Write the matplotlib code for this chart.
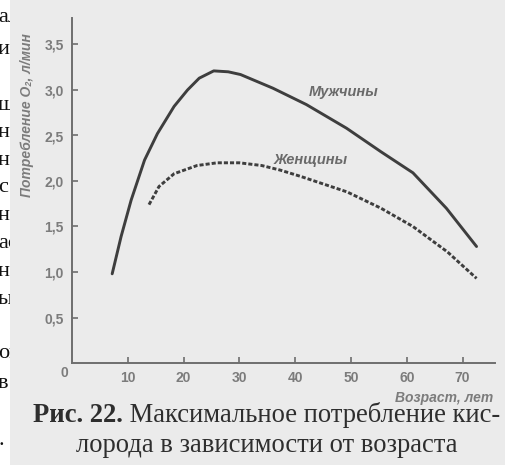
import matplotlib
matplotlib.use("Agg")
import matplotlib.pyplot as plt
from matplotlib.patches import Rectangle

# ---- data ----
men_age = [7.2, 8.8, 10.6, 13.0, 15.3, 18.3, 20.7, 22.8, 25.4, 28.0, 30.2, 36.0, 42.0, 49.2, 55.4, 61.1, 67.1, 72.5]
men_vo2 = [0.98, 1.39, 1.79, 2.23, 2.52, 2.82, 3.00, 3.13, 3.21, 3.20, 3.17, 3.02, 2.84, 2.58, 2.32, 2.09, 1.70, 1.28]

women_age = [13.8, 15.6, 18.3, 22.4, 26.0, 30.0, 34.0, 37.3, 41.0, 49.3, 55.4, 61.1, 67.3, 72.5]
women_vo2 = [1.74, 1.94, 2.08, 2.17, 2.20, 2.20, 2.17, 2.12, 2.05, 1.88, 1.70, 1.50, 1.22, 0.93]

x_ticks = [10, 20, 30, 40, 50, 60, 70]
y_ticks = [0.5, 1.0, 1.5, 2.0, 2.5, 3.0, 3.5]
y_tick_labels = ["0,5", "1,0", "1,5", "2,0", "2,5", "3,0", "3,5"]

label_men = "Мужчины"
label_women = "Женщины"
x_label = "Возраст, лет"
y_label = "Потребление O₂, л/мин"
caption_bold = "Рис. 22."
caption_rest = " Максимальное потребление кис-"
caption_line2 = "лорода в зависимости от возраста"
margin_fragments = [(18, "ал"), (50, "и"), (105, "ш"), (132, "н"), (160, "н"), (188, "с"),
                    (215, "н"), (243, "ас"), (271, "н"), (299, "ы"), (353, "он"), (383, "в"), (440, ".")]

W, H = 506, 465
fig = plt.figure(figsize=(W / 100, H / 100), dpi=100)
fig.patch.set_facecolor("white")

SANS = ["Liberation Sans", "DejaVu Sans"]
SERIF = ["Liberation Serif", "DejaVu Serif"]
grey_txt = "#7c7c7c"

# text of the neighbouring page, cut by the grey scan area
for yy, s in margin_fragments:
    fig.text(-2 / W, 1 - yy / H, s, ha="left", va="center", fontsize=16,
             family=SERIF, color="#111111", zorder=0.5)
fig.add_artist(Rectangle((10 / W, 0), 1, 1, transform=fig.transFigure,
                         facecolor="#ebebeb", edgecolor="none", zorder=1))

# axes
x0, x1 = 72, 495
y0, y1 = 363, 18
ax = fig.add_axes([x0 / W, 1 - y0 / H, (x1 - x0) / W, (y0 - y1) / H])
ax.set_zorder(5)
ax.patch.set_visible(False)
ax.set_xlim(0, (x1 - x0) / 5.58)
ax.set_ylim(0, (y0 - y1) / 91.0)
for side in ("top", "right"):
    ax.spines[side].set_visible(False)
for side in ("left", "bottom"):
    ax.spines[side].set_color("#6e6e6e")
    ax.spines[side].set_linewidth(1.4)

ax.set_xticks(x_ticks)
ax.set_xticklabels([str(v) for v in x_ticks])
ax.set_yticks(y_ticks)
ax.set_yticklabels(y_tick_labels)
ax.tick_params(direction="in", length=4, width=1.2, color="#6e6e6e",
               labelcolor=grey_txt, labelsize=10, pad=6)
for lab in ax.get_xticklabels() + ax.get_yticklabels():
    lab.set_family(SANS)
    lab.set_fontweight("bold")

ax.plot(men_age, men_vo2, color="#3e3e3e", lw=2.1, solid_capstyle="round", solid_joinstyle="round")
ax.plot(women_age, women_vo2, color="#3e3e3e", lw=2.1, linestyle=(0, (1.4, 0.7)))

ax.text(48.7, 2.98, label_men, ha="center", va="center", fontsize=10.5, style="italic",
        fontweight="bold", color="#6a6a6a", family=SANS)
ax.text(42.7, 2.23, label_women, ha="center", va="center", fontsize=10.5, style="italic",
        fontweight="bold", color="#6a6a6a", family=SANS)

fig.text(64 / W, 1 - 373 / H, "0", ha="center", va="center", fontsize=10,
         fontweight="bold", color=grey_txt, family=SANS, zorder=6)
fig.text(493 / W, 1 - 398 / H, x_label, ha="right", va="center", fontsize=10,
         style="italic", fontweight="bold", color=grey_txt, family=SANS, zorder=6)
fig.text(27 / W, 1 - 115 / H, y_label, ha="center", va="center", rotation=90,
         fontsize=10, style="italic", fontweight="bold", color=grey_txt, family=SANS, zorder=6)

# caption
CAP = 19.2
t1 = fig.text(33 / W, 1 - 422 / H, caption_bold, ha="left", va="baseline", fontsize=CAP,
              fontweight="bold", color="#2e2e2e", family=SERIF, zorder=6)
fig.canvas.draw()
bb = t1.get_window_extent()
fig.text(bb.x1 / W, 1 - 422 / H, caption_rest, ha="left", va="baseline", fontsize=CAP,
         color="#2e2e2e", family=SERIF, zorder=6)
fig.text(267 / W, 1 - 452 / H, caption_line2, ha="center", va="baseline", fontsize=CAP,
         color="#2e2e2e", family=SERIF, zorder=6)

fig.savefig("out.png", dpi=100)
